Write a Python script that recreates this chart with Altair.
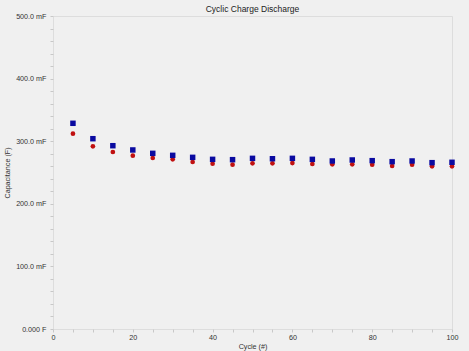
import altair as alt
import pandas as pd

cycles = [5, 10, 15, 20, 25, 30, 35, 40, 45, 50, 55, 60, 65, 70, 75, 80, 85, 90, 95, 100]
charge = [328.6, 304.0, 292.8, 286.0, 280.6, 277.4, 274.2, 271.0, 270.5, 272.6,
          272.0, 272.6, 271.0, 268.4, 270.0, 268.9, 267.3, 268.4, 265.7, 266.3]
discharge = [312.0, 291.8, 282.7, 276.9, 273.2, 271.0, 266.8, 264.0, 262.5, 264.6,
             264.6, 265.0, 263.6, 263.0, 263.0, 262.5, 260.4, 262.5, 259.9, 259.9]

df = pd.DataFrame({"cycle": cycles, "charge": charge, "discharge": discharge})

x = alt.X("cycle:Q", scale=alt.Scale(domain=[0, 100], nice=False),
          axis=alt.Axis(title="Cycle (#)", values=list(range(0, 101, 5)),
                        labelExpr="datum.value % 20 == 0 ? datum.label : ''",
                        grid=False, domain=False, tickSize=3, tickColor="#c8c8c8",
                        labelColor="#333333", labelFontSize=7.2, titleFontSize=7.2,
                        titleFontWeight="normal", titleColor="#333333", titlePadding=2,
                        labelPadding=1, labelFlush=False))

yaxis = alt.Axis(title="Capacitance (F)", values=list(range(0, 501, 20)),
                 labelExpr="datum.value == 0 ? '0.000 F' : (datum.value % 100 == 0 ? format(datum.value, '.1f') + ' mF' : '')",
                 grid=False, domain=False, tickSize=3, tickColor="#c8c8c8",
                 labelColor="#333333", labelFontSize=7.2, titleFontSize=7.2,
                 titleFontWeight="normal", titleColor="#333333", titlePadding=4,
                 labelPadding=4)

yscale = alt.Scale(domain=[0, 500], nice=False)

base = alt.Chart(df)
sq = base.mark_square(size=30, color="#0a0aa0", opacity=1).encode(
    x=x, y=alt.Y("charge:Q", scale=yscale, axis=yaxis))
ci = base.mark_circle(size=22, color="#c01010", opacity=1).encode(
    x=x, y=alt.Y("discharge:Q", scale=yscale, axis=yaxis))

chart = alt.layer(ci, sq).properties(
    width=399, height=313,
    title=alt.TitleParams("Cyclic Charge Discharge", fontSize=8.5, fontWeight="normal",
                          color="#222222", offset=4, anchor="middle", frame="group", dy=5),
    background="#f0f0f0",
    padding={"left": 53, "top": 16, "right": 17, "bottom": 22},
    autosize=alt.AutoSizeParams(type="none"),
).configure_view(fill="white", stroke="#d8d8d8", strokeWidth=1).configure(font="Liberation Sans")

chart.save("out.html", embed_options={"renderer": "svg", "actions": False})
